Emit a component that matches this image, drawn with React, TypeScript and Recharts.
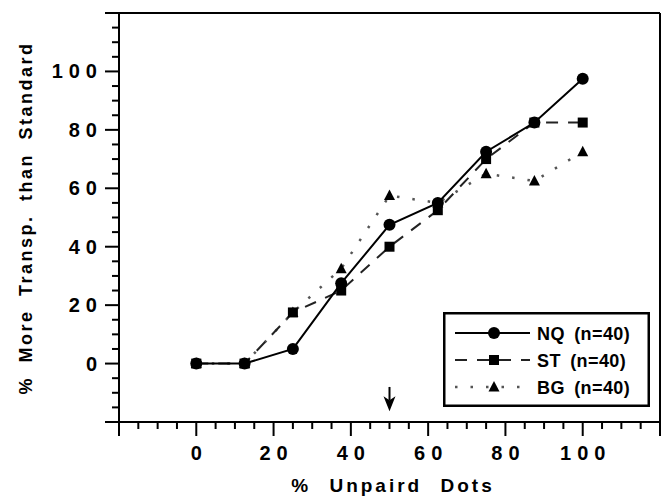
import React from "react";
import { LineChart, Line, XAxis, YAxis, ReferenceLine, ReferenceDot, Legend } from "recharts";

// Percent of unpaired dots on the x axis, three observer groups
const xValues = [0, 12.5, 25, 37.5, 50, 62.5, 75, 87.5, 100];
const nqValues = [0, 0, 5, 27.5, 47.5, 55, 72.5, 82.5, 97.5];
const stValues = [0, 0, 17.5, 25, 40, 52.5, 70, 82.5, 82.5];
const bgValues = [0, 0, 17.5, 32.5, 57.5, 55, 65, 62.5, 72.5];

const axisTicks = [-20, -15, -10, -5, 0, 5, 10, 15, 20, 25, 30, 35, 40, 45, 50, 55, 60, 65, 70, 75, 80, 85, 90, 95, 100, 105, 110, 115, 120];
const labelTicks = [0, 20, 40, 60, 80, 100];

const xTitle = "% Unpaird Dots";
const yTitle = "% More Transp. than Standard";
const arrowAt = 50;

const FONT = "'Liberation Sans', Arial, Helvetica, sans-serif";
const INK = "#000";

const rows = xValues.map((x, i) => ({ x, nq: nqValues[i], st: stValues[i], bg: bgValues[i] }));

type Marker = "circle" | "square" | "triangle";

const series: { key: string; name: string; marker: Marker; dash?: string; color: string; width: number }[] = [
  { key: "bg", name: "BG", marker: "triangle", dash: "2.5 13", color: "#555", width: 2.5 },
  { key: "st", name: "ST", marker: "square", dash: "12 10", color: "#222", width: 2 },
  { key: "nq", name: "NQ", marker: "circle", color: INK, width: 2 },
];
const legendOrder = ["nq", "st", "bg"];

function markerShape(kind: Marker, cx: number, cy: number, key?: React.Key) {
  if (kind === "circle") return <circle key={key} cx={cx} cy={cy} r={6} fill={INK} />;
  if (kind === "square") return <rect key={key} x={cx - 5} y={cy - 5} width={10} height={10} fill={INK} />;
  return <polygon key={key} points={`${cx},${cy - 6} ${cx - 5.5},${cy + 4.5} ${cx + 5.5},${cy + 4.5}`} fill={INK} />;
}

function XTick(props: any) {
  const { x, y, payload } = props;
  const v = payload.value;
  const major = v % 20 === 0;
  return (
    <g>
      <line x1={x} x2={x} y1={y} y2={y + (major ? 14 : 7)} stroke={INK} strokeWidth={2} />
      {labelTicks.includes(v) && (
        <text x={x} dx={3} y={y + 38} textAnchor="middle" fontFamily={FONT} fontWeight="bold" fontSize={20} letterSpacing={6} fill={INK}>
          {v}
        </text>
      )}
    </g>
  );
}

function YTick(props: any) {
  const { x, y, payload } = props;
  const v = payload.value;
  const major = v % 20 === 0;
  return (
    <g>
      <line x1={x} x2={x - (major ? 14 : 7)} y1={y} y2={y} stroke={INK} strokeWidth={2} />
      {labelTicks.includes(v) && (
        <text x={x - 16} y={y + 7} textAnchor="end" fontFamily={FONT} fontWeight="bold" fontSize={20} letterSpacing={6} fill={INK}>
          {v}
        </text>
      )}
    </g>
  );
}

function XTitle() {
  return (
    <text x={393} y={492} textAnchor="middle" fontFamily={FONT} fontWeight="bold" fontSize={19} letterSpacing={3} wordSpacing={10} fill={INK}>
      {xTitle}
    </text>
  );
}

function YTitle() {
  return (
    <text x={32} y={218} transform="rotate(-90 32 218)" textAnchor="middle" fontFamily={FONT} fontWeight="bold" fontSize={18} letterSpacing={2.5} wordSpacing={6} fill={INK}>
      {yTitle}
    </text>
  );
}

function LegendBox() {
  const items = legendOrder.map((k) => series.find((s) => s.key === k)!);
  return (
    <svg width={207} height={95} style={{ display: "block" }}>
      <rect x={1.25} y={1.25} width={204.5} height={92.5} fill="#fff" stroke={INK} strokeWidth={2.5} />
      {items.map((s, i) => {
        const cy = 21 + i * 27;
        return (
          <g key={s.key}>
            <line x1={12} x2={87} y1={cy} y2={cy} stroke={s.color} strokeWidth={s.width} strokeDasharray={s.dash} />
            {markerShape(s.marker, 51, cy)}
            <text x={94} y={cy + 6.5} fontFamily={FONT} fontWeight="bold" fontSize={18} letterSpacing={0.4} wordSpacing={4} fill={INK}>
              {`${s.name} (n=40)`}
            </text>
          </g>
        );
      })}
    </svg>
  );
}

function ArrowHead(props: any) {
  const { cx, cy } = props;
  return <polygon points={`${cx},${cy} ${cx - 6},${cy - 15} ${cx},${cy - 11} ${cx + 6},${cy - 15}`} fill={INK} />;
}

export default function App() {
  return (
    <div style={{ position: "absolute", left: 0, top: 0, background: "#fff" }}>
      <LineChart width={665} height={496} data={rows} margin={{ top: 13, right: 5, bottom: 0, left: 0 }}>
        <XAxis
          dataKey="x"
          type="number"
          domain={[-20, 120]}
          ticks={axisTicks}
          interval={0}
          height={74}
          tickSize={0}
          tickMargin={0}
          tickLine={false}
          axisLine={{ stroke: INK, strokeWidth: 2 }}
          tick={<XTick />}
          label={{ content: <XTitle /> }}
        />
        <YAxis
          type="number"
          domain={[-20, 120]}
          ticks={axisTicks}
          interval={0}
          width={119}
          tickSize={0}
          tickMargin={0}
          tickLine={false}
          axisLine={{ stroke: INK, strokeWidth: 2 }}
          tick={<YTick />}
          label={{ content: <YTitle /> }}
        />
        <ReferenceLine y={120} stroke={INK} strokeWidth={2} />
        <ReferenceLine x={120} stroke={INK} strokeWidth={2} />
        <ReferenceLine segment={[{ x: arrowAt, y: -8 }, { x: arrowAt, y: -12.5 }]} stroke={INK} strokeWidth={2} />
        <ReferenceDot x={arrowAt} y={-16.3} r={0} shape={<ArrowHead />} />
        {series.map((s) => (
          <Line
            key={s.key}
            dataKey={s.key}
            name={s.name}
            type="linear"
            stroke={s.color}
            strokeWidth={s.width}
            strokeDasharray={s.dash}
            isAnimationActive={false}
            dot={(p: any) => markerShape(s.marker, p.cx, p.cy, p.index)}
            activeDot={false}
          />
        ))}
        <Legend
          layout="horizontal"
          verticalAlign="middle"
          align="center"
          content={<LegendBox />}
          wrapperStyle={{ left: 443, top: 312, width: 207, height: 95 }}
        />
      </LineChart>
    </div>
  );
}
